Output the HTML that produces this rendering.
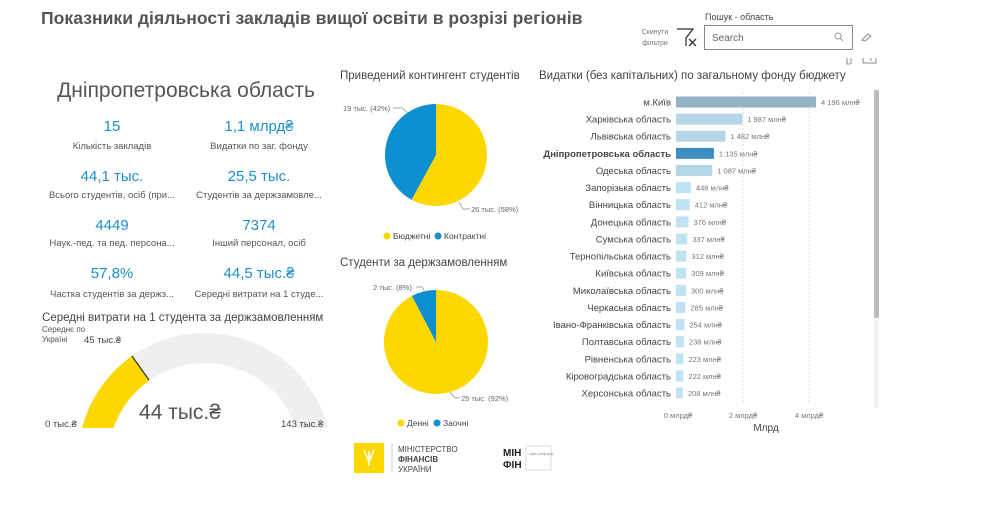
<!DOCTYPE html>
<html><head><meta charset="utf-8"><style>
body{margin:0;background:#fff;width:981px;height:522px;overflow:hidden;font-family:"Liberation Sans","DejaVu Sans",sans-serif}
svg text{font-family:"Liberation Sans","DejaVu Sans",sans-serif}
</style></head><body>
<svg width="981" height="522" xmlns="http://www.w3.org/2000/svg">
<text x="41" y="24" font-size="17.6" font-weight="bold" fill="#555">Показники діяльності закладів вищої освіти в розрізі регіонів</text>
<text x="655" y="34" font-size="7" fill="#777" text-anchor="middle">Скинути</text>
<text x="655" y="45" font-size="7" fill="#777" text-anchor="middle">фільтри</text>
<path d="M677 29 L693 29 L686 38 L686 46 M689 39 L696 46 M696 39 L689 46" stroke="#333" stroke-width="1.3" fill="none"/>
<text x="705" y="20" font-size="9" fill="#444">Пошук - область</text>
<rect x="704.5" y="25.5" width="148" height="24" fill="#fff" stroke="#888"/>
<text x="712" y="41" font-size="10" fill="#666">Search</text>
<circle cx="838" cy="36" r="3" fill="none" stroke="#999"/><line x1="840" y1="38" x2="843" y2="41" stroke="#999"/>
<path d="M862 40 L868 34 L871 36 L865 41 Z" fill="none" stroke="#888"/>
<path d="M847 58 L847 64 L850 64 M851 58 L851 64" stroke="#888" fill="none"/>
<path d="M863 58 L863 63 L876 63 L876 58 M871 58 L871 61" stroke="#888" fill="none"/>
<text x="186" y="97" font-size="21" fill="#555" text-anchor="middle">Дніпропетровська область</text>
<g fill="#1e8fc7" font-size="15" text-anchor="middle">
<text x="112" y="131">15</text><text x="259" y="131">1,1 млрд₴</text>
<text x="112" y="181">44,1 тыс.</text><text x="259" y="181">25,5 тыс.</text>
<text x="112" y="230">4449</text><text x="259" y="230">7374</text>
<text x="112" y="278">57,8%</text><text x="259" y="278">44,5 тыс.₴</text>
</g>
<g fill="#555" font-size="9.5" text-anchor="middle">
<text x="112" y="149">Кількість закладів</text><text x="259" y="149">Видатки по заг. фонду</text>
<text x="112" y="198">Всього студентів, осіб (при...</text><text x="259" y="198">Студентів за держзамовле...</text>
<text x="112" y="246">Наук.-пед. та пед. персона...</text><text x="259" y="246">Інший персонал, осіб</text>
<text x="112" y="297">Частка студентів за держз...</text><text x="259" y="297">Середні витрати на 1 студе...</text>
</g>
<text x="42" y="321" font-size="11.5" fill="#444">Середні витрати на 1 студента за держзамовленням</text>
<text x="42" y="332" font-size="8" fill="#555">Середнє по</text>
<text x="42" y="342" font-size="8" fill="#555">Україні</text>
<text x="84" y="343" font-size="9.5" fill="#444">45 тыс.₴</text>
<defs><clipPath id="gc"><rect x="0" y="300" width="400" height="128"/></clipPath></defs>
<g clip-path="url(#gc)">
<path d="M78 460 A127 127 0 0 1 332 460 L302 460 A97 97 0 0 0 108 460 Z" fill="#f0efee"/>
<path d="M78 460 A127 127 0 0 1 132.2 355.9 L149.4 380.5 A97 97 0 0 0 108 460 Z" fill="#fcd800"/>
<line x1="132" y1="356" x2="149" y2="380" stroke="#333" stroke-width="1.2"/>
</g>
<text x="180" y="419" font-size="21" fill="#555" text-anchor="middle">44 тыс.₴</text>
<text x="45" y="427" font-size="9.5" fill="#444">0 тыс.₴</text>
<text x="281" y="427" font-size="9.5" fill="#444">143 тыс.₴</text>
<text x="340" y="79" font-size="11.5" fill="#444">Приведений контингент студентів</text>
<path d="M436 155 L436 104 A51 51 0 1 1 411.6 199.8 Z" fill="#fcd800"/>
<path d="M436 155 L411.6 199.8 A51 51 0 0 1 436 104 Z" fill="#0e8fd0"/>
<path d="M393 108 L402 108 L408 113" stroke="#aaa" fill="none"/>
<text x="343" y="111" font-size="7.5" fill="#666">19 тыс. (42%)</text>
<path d="M459 202 L463 209 L470 209" stroke="#aaa" fill="none"/>
<text x="471" y="212" font-size="7.5" fill="#666">26 тыс. (58%)</text>
<circle cx="387" cy="236" r="3.5" fill="#fcd800"/><text x="393" y="239" font-size="8.5" fill="#444">Бюджетні</text>
<circle cx="438" cy="236" r="3.5" fill="#0e8fd0"/><text x="444" y="239" font-size="8.5" fill="#444">Контрактні</text>
<text x="340" y="266" font-size="11.5" fill="#444">Студенти за держзамовленням</text>
<path d="M436 342 L436 290 A52 52 0 1 1 411.9 295.9 Z" fill="#fcd800"/>
<path d="M436 342 L411.9 295.9 A52 52 0 0 1 436 290 Z" fill="#0e8fd0"/>
<path d="M416 287 L422 287 L425 292" stroke="#aaa" fill="none"/>
<text x="373" y="290" font-size="7.5" fill="#666">2 тыс. (8%)</text>
<path d="M450 392 L455 398 L460 398" stroke="#aaa" fill="none"/>
<text x="461" y="401" font-size="7.5" fill="#666">25 тыс. (92%)</text>
<circle cx="401" cy="423" r="3.5" fill="#fcd800"/><text x="407" y="426" font-size="8.5" fill="#444">Денні</text>
<circle cx="437" cy="423" r="3.5" fill="#0e8fd0"/><text x="443" y="426" font-size="8.5" fill="#444">Заочні</text>
<text x="539" y="79" font-size="11.5" fill="#444">Видатки (без капітальних) по загальному фонду бюджету</text>
<line x1="743" y1="92" x2="743" y2="403" stroke="#ddd" stroke-dasharray="2,2"/>
<line x1="809" y1="92" x2="809" y2="403" stroke="#ddd" stroke-dasharray="2,2"/>
<rect x="874" y="88" width="5" height="320" fill="#f2f2f2"/>
<rect x="874" y="90" width="5" height="228" rx="2" fill="#bbb"/>
<g font-size="9.5" fill="#444" text-anchor="end" id="lbl"></g>
<g id="bars"></g>
<text x="678" y="418" font-size="7.5" fill="#777" text-anchor="middle">0 млрд₴</text>
<text x="743" y="418" font-size="7.5" fill="#777" text-anchor="middle">2 млрд₴</text>
<text x="809" y="418" font-size="7.5" fill="#777" text-anchor="middle">4 млрд₴</text>
<text x="766" y="431" font-size="10" fill="#444" text-anchor="middle">Млрд</text>
<rect x="354" y="443" width="30" height="30" fill="#fcd800"/>
<path d="M364 450 L369 462 L374 450 M369 451 L369 466" stroke="#fff" stroke-width="1.5" fill="none"/>
<line x1="392" y1="443" x2="392" y2="473" stroke="#ccc"/>
<text x="398" y="452" font-size="8" fill="#444" font-family="Liberation Serif">МІНІСТЕРСТВО</text>
<text x="398" y="462" font-size="8" fill="#444" font-family="Liberation Serif" font-weight="bold">ФІНАНСІВ</text>
<text x="398" y="472" font-size="8" fill="#444" font-family="Liberation Serif">УКРАЇНИ</text>
<text x="503" y="456" font-size="10" font-weight="bold" fill="#222">МІН</text>
<text x="503" y="468" font-size="10" font-weight="bold" fill="#222">ФІН</text>
<rect x="526" y="446" width="25" height="24" fill="none" stroke="#ddd"/>
<text x="529" y="455" font-size="4" fill="#888">офіс реформ</text>
</svg>
<script>
var d=[["м.Київ",4196],["Харківська область",1987],["Львівська область",1482],["Дніпропетровська область",1135],["Одеська область",1087],["Запорізька область",448],["Вінницька область",412],["Донецька область",376],["Сумська область",337],["Тернопільська область",312],["Київська область",309],["Миколаївська область",300],["Черкаська область",285],["Івано-Франківська область",254],["Полтавська область",238],["Рівненська область",223],["Кіровоградська область",222],["Херсонська область",208]];
var ns="http://www.w3.org/2000/svg",L=document.getElementById("lbl"),B=document.getElementById("bars");
function mk(t,a,p,s){var e=document.createElementNS(ns,t);for(var k in a)e.setAttribute(k,a[k]);if(s)e.textContent=s;p.appendChild(e);return e;}
for(var i=0;i<18;i++){var y=102+i*17.12,v=d[i][1],w=v*140/4196,c=i==0?"#94b4c6":(i==3?"#3c8fc0":(i<5?"#b4d6e6":"#c1e2f3"));
mk("text",{x:671,y:y+3.5,"font-weight":i==3?"bold":"normal"},L,d[i][0]);
mk("rect",{x:676,y:y-5.5,width:w,height:11,fill:c},B);
var s=v>=1000?(Math.floor(v/1000)+" "+String(v%1000).padStart(3,"0")):String(v);
mk("text",{x:676+w+5,y:y+3,"font-size":7.5,fill:"#777"},B,s+" млн₴");}
</script>
</body></html>
